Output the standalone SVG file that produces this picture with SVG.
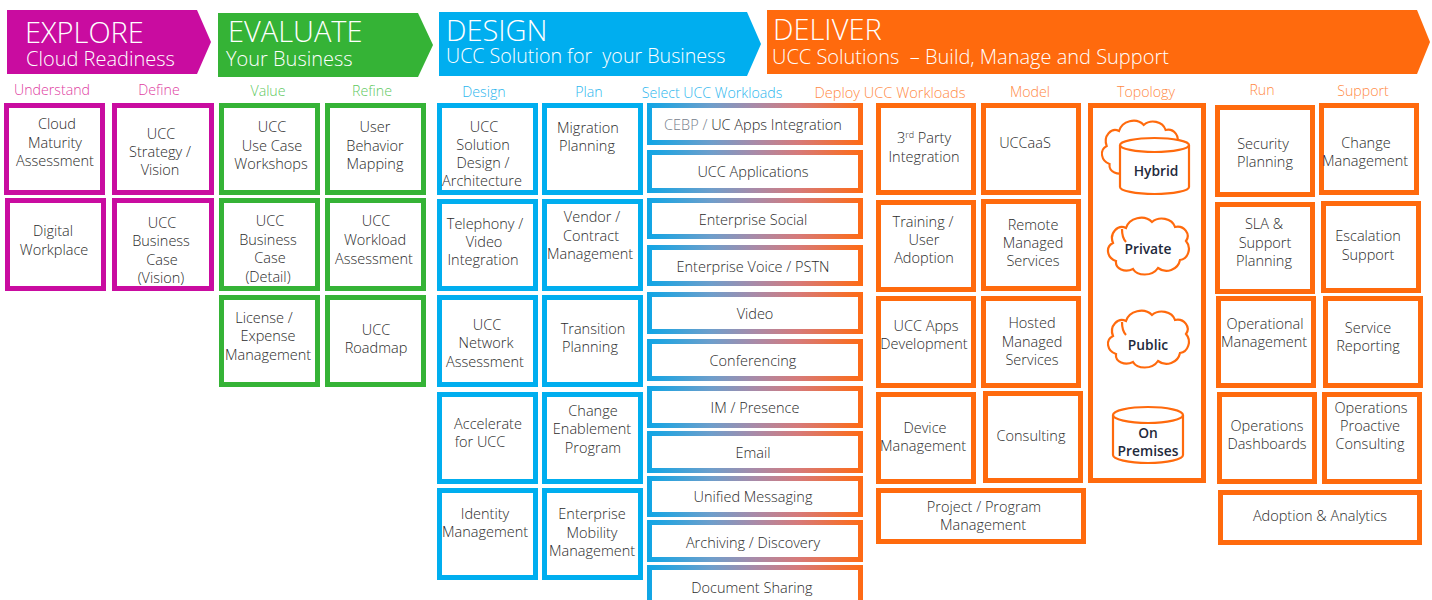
<svg xmlns="http://www.w3.org/2000/svg" width="1432" height="600" viewBox="0 0 1432 600">
<style>
text{font-family:"Open Sans","Noto Sans","Liberation Sans",sans-serif;font-weight:300}
.t{font-size:14.5px;fill:#2b2b2b;text-anchor:middle}
.h{font-size:29px;fill:#fff}
.s{font-size:20px;fill:#fff;white-space:pre}
.l{font-size:14.2px;text-anchor:middle}
.b{fill:#fff;stroke-width:5}
.m{stroke:#c90ca0}.g{stroke:#35b336}.c{stroke:#00aeef}.o{stroke:#ff6a0d}.w{stroke:url(#wg)}
.tp{fill:#fff;stroke:#ff6a0d;stroke-width:2.2}
.tn{fill:none;stroke:#ff6a0d;stroke-width:2.2}
.tb{font-size:13.8px;font-weight:600;fill:#1f2a3c;text-anchor:middle}
</style>
<defs>
<linearGradient id="wg" gradientUnits="userSpaceOnUse" x1="647" y1="0" x2="863" y2="0"><stop offset="0" stop-color="#0ea6e6"/><stop offset="0.3" stop-color="#6f9ecb"/><stop offset="0.5" stop-color="#a98aa8"/><stop offset="0.7" stop-color="#d67a7a"/><stop offset="1" stop-color="#ff6a13"/></linearGradient>
<path id="cl" d="M9 44C0 41-2 30 6 26C2 16 11 7 19 11C22 1 37-3 45 5C52-1 65 1 68 10C77 8 84 17 79 24C85 31 81 42 73 43C71 53 59 57 51 51C45 60 30 59 26 52C18 56 8 52 9 44Z"/>
</defs>
<g id="phases">
<g id="explore"><polygon points="7,10 197,10 211,42 197,74 7,74" fill="#c90ca0"/><text class="h" x="25" y="43">EXPLORE</text><text class="s" x="26" y="66">Cloud Readiness</text></g>
<g id="evaluate"><polygon points="218,13 418,13 433,45 418,77 218,77" fill="#35b336"/><text class="h" x="228" y="42">EVALUATE</text><text class="s" x="226" y="66">Your Business</text></g>
<g id="design"><polygon points="439,12 747,12 761,44 747,76 439,76" fill="#00aeef"/><text class="h" x="446" y="41">DESIGN</text><text class="s" x="446" y="63" style="font-size:19.650px">UCC Solution for  your Business</text></g>
<g id="deliver"><polygon points="767,10 1417,10 1430,42 1417,74 767,74" fill="#ff6a0d"/><text class="h" x="773" y="40">DELIVER</text><text class="s" x="772" y="64">UCC Solutions  – Build, Manage and Support</text></g>
</g>
<g id="column-labels">
<text class="l" x="52" y="95" fill="#e0409f">Understand</text>
<text class="l" x="159" y="95" fill="#e0409f">Define</text>
<text class="l" x="268" y="96" fill="#5fc95f">Value</text>
<text class="l" x="372" y="96" fill="#5fc95f">Refine</text>
<text class="l" x="484" y="97" fill="#2cb6ee">Design</text>
<text class="l" x="589" y="97" fill="#2cb6ee">Plan</text>
<text class="l" x="712" y="98" fill="#2cb6ee">Select UCC Workloads</text>
<text class="l" x="890" y="98" fill="#ff8a45" style="font-size:14.6px">Deploy UCC Workloads</text>
<text class="l" x="1030" y="97" fill="#ff8a45">Model</text>
<text class="l" x="1146" y="97" fill="#ff8a45">Topology</text>
<text class="l" x="1262" y="95" fill="#ff8a45">Run</text>
<text class="l" x="1363" y="96" fill="#ff8a45">Support</text>
</g>
<g id="understand-1"><rect class="b m" x="6.5" y="105.500" width="96" height="87"/><text class="t"><tspan x="57" y="129">Cloud</tspan><tspan x="55" y="148">Maturity</tspan><tspan x="55" y="166">Assessment</tspan></text></g>
<g id="understand-2"><rect class="b m" x="7.500" y="200.500" width="96" height="88"/><text class="t"><tspan x="53" y="236">Digital</tspan><tspan x="54" y="255">Workplace</tspan></text></g>
<g id="define-1"><rect class="b m" x="114.500" y="105.500" width="97" height="87"/><text class="t"><tspan x="161" y="139">UCC</tspan><tspan x="160" y="157">Strategy /</tspan><tspan x="160" y="175">Vision</tspan></text></g>
<g id="define-2"><rect class="b m" x="114.500" y="200.500" width="97" height="88"/><text class="t"><tspan x="162" y="228">UCC</tspan><tspan x="161" y="246">Business</tspan><tspan x="162" y="265">Case</tspan><tspan x="161" y="283">(Vision)</tspan></text></g>
<g id="value-1"><rect class="b g" x="221.500" y="105.500" width="96" height="87"/><text class="t"><tspan x="272" y="132">UCC</tspan><tspan x="272" y="151">Use Case</tspan><tspan x="271" y="169">Workshops</tspan></text></g>
<g id="value-2"><rect class="b g" x="221.500" y="200.500" width="96" height="88"/><text class="t"><tspan x="270" y="226">UCC</tspan><tspan x="268" y="245">Business</tspan><tspan x="270" y="263">Case</tspan><tspan x="268" y="282">(Detail)</tspan></text></g>
<g id="value-3"><rect class="b g" x="221.500" y="297.500" width="96" height="87"/><text class="t"><tspan x="264" y="323">License /</tspan><tspan x="268" y="341">Expense</tspan><tspan x="268" y="360">Management</tspan></text></g>
<g id="refine-1"><rect class="b g" x="327.500" y="105.500" width="96" height="87"/><text class="t"><tspan x="375" y="132">User</tspan><tspan x="375" y="151">Behavior</tspan><tspan x="375" y="169">Mapping</tspan></text></g>
<g id="refine-2"><rect class="b g" x="327.500" y="200.500" width="96" height="88"/><text class="t"><tspan x="376" y="226">UCC</tspan><tspan x="375" y="245">Workload</tspan><tspan x="374" y="264">Assessment</tspan></text></g>
<g id="refine-3"><rect class="b g" x="327.500" y="297.500" width="96" height="87"/><text class="t"><tspan x="376" y="335">UCC</tspan><tspan x="376" y="353">Roadmap</tspan></text></g>
<g id="design-1"><rect class="b c" x="439.500" y="105.500" width="96" height="87"/><text class="t"><tspan x="484" y="132">UCC</tspan><tspan x="483" y="150">Solution</tspan><tspan x="483" y="168">Design /</tspan><tspan x="482" y="186">Architecture</tspan></text></g>
<g id="design-2"><rect class="b c" x="439.500" y="201.500" width="96" height="87"/><text class="t"><tspan x="485" y="229">Telephony /</tspan><tspan x="484" y="247">Video</tspan><tspan x="483" y="265">Integration</tspan></text></g>
<g id="design-3"><rect class="b c" x="439.500" y="297.500" width="96" height="87"/><text class="t"><tspan x="487" y="330">UCC</tspan><tspan x="486" y="348">Network</tspan><tspan x="485" y="367">Assessment</tspan></text></g>
<g id="design-4"><rect class="b c" x="439.500" y="394.500" width="96" height="87"/><text class="t"><tspan x="488" y="429">Accelerate</tspan><tspan x="480" y="447">for UCC</tspan></text></g>
<g id="design-5"><rect class="b c" x="439.500" y="490.500" width="96" height="87"/><text class="t"><tspan x="485" y="519">Identity</tspan><tspan x="485" y="537">Management</tspan></text></g>
<g id="plan-1"><rect class="b c" x="544.500" y="105.500" width="96" height="87"/><text class="t"><tspan x="588" y="133">Migration</tspan><tspan x="587" y="151">Planning</tspan></text></g>
<g id="plan-2"><rect class="b c" x="544.500" y="201.500" width="96" height="87"/><text class="t"><tspan x="592" y="222">Vendor /</tspan><tspan x="591" y="241">Contract</tspan><tspan x="590" y="259">Management</tspan></text></g>
<g id="plan-3"><rect class="b c" x="544.500" y="297.500" width="96" height="87"/><text class="t"><tspan x="593" y="334">Transition</tspan><tspan x="590" y="352">Planning</tspan></text></g>
<g id="plan-4"><rect class="b c" x="544.500" y="394.500" width="96" height="87"/><text class="t"><tspan x="593" y="416">Change</tspan><tspan x="592" y="434">Enablement</tspan><tspan x="593" y="453">Program</tspan></text></g>
<g id="plan-5"><rect class="b c" x="544.500" y="490.500" width="96" height="87"/><text class="t"><tspan x="592" y="519">Enterprise</tspan><tspan x="592" y="538">Mobility</tspan><tspan x="592" y="556">Management</tspan></text></g>
<g id="w1"><rect class="b w" x="649.500" y="105.500" width="211" height="37"/><text class="t" x="753" y="130"><tspan fill="#76808c">CEBP /</tspan> UC Apps Integration</text></g>
<g id="w2"><rect class="b w" x="649.500" y="152.500" width="211" height="38"/><text class="t" x="753" y="177">UCC Applications</text></g>
<g id="w3"><rect class="b w" x="649.500" y="200.500" width="211" height="36"/><text class="t" x="753" y="225">Enterprise Social</text></g>
<g id="w4"><rect class="b w" x="649.500" y="247.500" width="211" height="36"/><text class="t" x="753" y="272">Enterprise Voice / PSTN</text></g>
<g id="w5"><rect class="b w" x="649.500" y="294.500" width="211" height="37"/><text class="t" x="755" y="319">Video</text></g>
<g id="w6"><rect class="b w" x="649.500" y="341.500" width="211" height="37"/><text class="t" x="753" y="366">Conferencing</text></g>
<g id="w7"><rect class="b w" x="649.500" y="388.500" width="211" height="37"/><text class="t" x="755" y="413">IM / Presence</text></g>
<g id="w8"><rect class="b w" x="649.500" y="433.500" width="211" height="37"/><text class="t" x="753" y="458">Email</text></g>
<g id="w9"><rect class="b w" x="649.500" y="478.500" width="211" height="36"/><text class="t" x="753" y="502">Unified Messaging</text></g>
<g id="w10"><rect class="b w" x="649.500" y="522.500" width="211" height="37"/><text class="t" x="753" y="548">Archiving / Discovery</text></g>
<g id="w11"><rect class="b w" x="649.500" y="567.500" width="211" height="40"/><text class="t" x="752" y="593">Document Sharing</text></g>
<g id="deploy-1"><rect class="b o" x="878.500" y="105.500" width="95" height="87"/><text class="t"><tspan x="924" y="143">3<tspan font-size="9" dy="-5">rd</tspan><tspan dy="5"> Party</tspan></tspan><tspan x="924" y="162">Integration</tspan></text></g>
<g id="deploy-2"><rect class="b o" x="878.500" y="202.500" width="95" height="87"/><text class="t"><tspan x="923" y="227">Training /</tspan><tspan x="924" y="245">User</tspan><tspan x="924" y="263">Adoption</tspan></text></g>
<g id="deploy-3"><rect class="b o" x="878.500" y="298.500" width="95" height="87"/><text class="t"><tspan x="926" y="331">UCC Apps</tspan><tspan x="924" y="349">Development</tspan></text></g>
<g id="deploy-4"><rect class="b o" x="878.500" y="394.500" width="95" height="87"/><text class="t"><tspan x="925" y="433">Device</tspan><tspan x="923" y="451">Management</tspan></text></g>
<g id="deploy-5"><rect class="b o" x="878.500" y="490.500" width="205" height="51"/><text class="t"><tspan x="984" y="512">Project / Program</tspan><tspan x="983" y="530">Management</tspan></text></g>
<g id="model-1"><rect class="b o" x="983.500" y="105.500" width="95" height="87"/><text class="t" x="1025" y="148">UCCaaS</text></g>
<g id="model-2"><rect class="b o" x="983.500" y="201.500" width="95" height="87"/><text class="t"><tspan x="1033" y="230">Remote</tspan><tspan x="1033" y="248">Managed</tspan><tspan x="1033" y="266">Services</tspan></text></g>
<g id="model-3"><rect class="b o" x="983.500" y="298.500" width="95" height="87"/><text class="t"><tspan x="1032" y="328">Hosted</tspan><tspan x="1032" y="347">Managed</tspan><tspan x="1032" y="365">Services</tspan></text></g>
<g id="model-4"><rect class="b o" x="985.500" y="393.500" width="95" height="87"/><text class="t" x="1031" y="441">Consulting</text></g>
<g id="topology"><rect class="b o" x="1090.500" y="105.500" width="113" height="375"/>
<use href="#cl" class="tp" transform="translate(1101,120) scale(0.95,1)"/>
<path class="tp" d="M1120 145A34.500 7 0 0 1 1189 145V187A34.500 7 0 0 1 1120 187Z"/><path class="tn" d="M1120 145A34.500 7 0 0 0 1189 145"/>
<text class="tb" x="1156" y="176">Hybrid</text>
<use href="#cl" class="tp" transform="translate(1107,217)"/><path class="tn" d="M1122 229C1122 235 1123 239 1126 242"/>
<text class="tb" x="1148" y="254">Private</text>
<use href="#cl" class="tp" transform="translate(1107,310)"/><path class="tn" d="M1122 322C1122 328 1123 332 1126 335"/>
<text class="tb" x="1148" y="350">Public</text>
<path class="tp" d="M1113 415A35 8 0 0 1 1183 415V455A35 8 0 0 1 1113 455Z"/><path class="tn" d="M1113 415A35 8 0 0 0 1183 415"/>
<text class="tb"><tspan x="1148" y="438">On</tspan><tspan x="1148" y="456">Premises</tspan></text></g>
<g id="run-1"><rect class="b o" x="1217.500" y="107.500" width="95" height="87"/><text class="t"><tspan x="1263" y="149">Security</tspan><tspan x="1265" y="167">Planning</tspan></text></g>
<g id="run-2"><rect class="b o" x="1217.500" y="204.500" width="95" height="87"/><text class="t"><tspan x="1264" y="229">SLA &amp;</tspan><tspan x="1265" y="248">Support</tspan><tspan x="1264" y="266">Planning</tspan></text></g>
<g id="run-3"><rect class="b o" x="1218.500" y="298.500" width="95" height="87"/><text class="t"><tspan x="1265" y="329">Operational</tspan><tspan x="1264" y="347">Management</tspan></text></g>
<g id="run-4"><rect class="b o" x="1219.500" y="394.500" width="95" height="87"/><text class="t"><tspan x="1267" y="431">Operations</tspan><tspan x="1267" y="449">Dashboards</tspan></text></g>
<g id="run-5"><rect class="b o" x="1220.500" y="492.500" width="199" height="50"/><text class="t" x="1320" y="521">Adoption &amp; Analytics</text></g>
<g id="support-1"><rect class="b o" x="1321.500" y="105.500" width="95" height="87"/><text class="t"><tspan x="1366" y="148">Change</tspan><tspan x="1365" y="166">Management</tspan></text></g>
<g id="support-2"><rect class="b o" x="1323.500" y="203.500" width="95" height="87"/><text class="t"><tspan x="1368" y="241">Escalation</tspan><tspan x="1368" y="260">Support</tspan></text></g>
<g id="support-3"><rect class="b o" x="1325.500" y="298.500" width="95" height="87"/><text class="t"><tspan x="1368" y="333">Service</tspan><tspan x="1368" y="351">Reporting</tspan></text></g>
<g id="support-4"><rect class="b o" x="1324.500" y="394.500" width="95" height="87"/><text class="t"><tspan x="1371" y="413">Operations</tspan><tspan x="1370" y="431">Proactive</tspan><tspan x="1370" y="449">Consulting</tspan></text></g>
</svg>
